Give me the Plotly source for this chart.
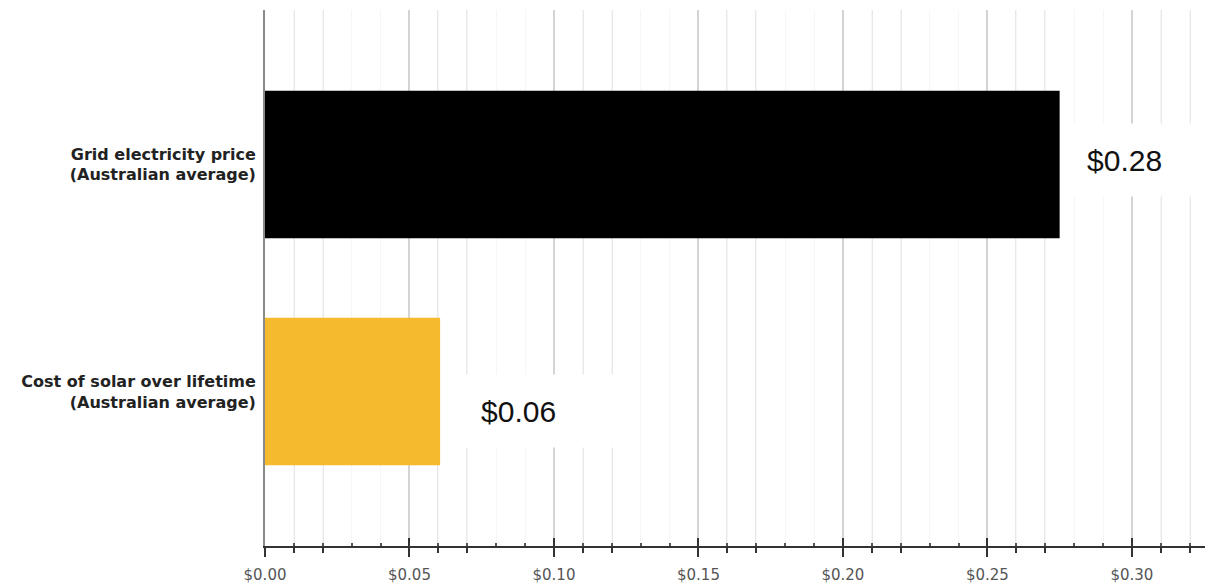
import plotly.graph_objects as go

categories = ["Cost of solar over lifetime<br>(Australian average)",
              "Grid electricity price<br>(Australian average)"]
values = [0.0606, 0.275]
value_labels = ["$0.06", "$0.28"]
bar_colors = ["#F6BA2F", "#000000"]

major_ticks = [0.00, 0.05, 0.10, 0.15, 0.20, 0.25, 0.30]
major_labels = ["$0.00", "$0.05", "$0.10", "$0.15", "$0.20", "$0.25", "$0.30"]
minor_ticks = [0.01, 0.02, 0.06, 0.07, 0.11, 0.12, 0.16, 0.17, 0.21, 0.22,
               0.26, 0.27, 0.31, 0.32]
faint_grid = [0.03, 0.04, 0.08, 0.09, 0.13, 0.14, 0.18, 0.19, 0.23, 0.24, 0.28, 0.29]

XMAX = 0.3253

fig = go.Figure()
fig.add_trace(go.Bar(
    y=categories, x=values, orientation="h",
    marker=dict(color=bar_colors, line=dict(width=0)),
    width=0.65, showlegend=False, hoverinfo="skip",
))
# helper trace on the overlay axis (for inner tick marks)
fig.add_trace(go.Scatter(x=[None], y=[categories[0]], xaxis="x2",
                         mode="markers", showlegend=False, hoverinfo="skip"))

# value boxes
box_left = [0.0672, 0.2770]
box_width = [167, 136]
yshift = [-19, 4]
for c, lab, bx, bw, ys in zip(categories, value_labels, box_left, box_width, yshift):
    fig.add_annotation(
        x=bx, y=c, xref="x", yref="y", xanchor="left", yanchor="middle",
        text="\u2002\u2009" + lab, showarrow=False, align="left",
        width=bw, height=72, bgcolor="#ffffff", borderpad=0, yshift=ys,
        font=dict(family="Liberation Sans, Arial, sans-serif", size=30, color="#111111"),
    )

# the page body adds an 8px offset; the figure is sized to fill the rest
fig.update_layout(
    width=1212, height=577,
    margin=dict(l=257, r=15, t=2, b=39, autoexpand=False),
    plot_bgcolor="#ffffff", paper_bgcolor="#ffffff",
    bargap=0.35,
    xaxis=dict(
        range=[0, XMAX], tickmode="array", tickvals=major_ticks, ticktext=major_labels,
        ticks="outside", ticklen=9, tickwidth=2, tickcolor="#333333",
        showline=True, linecolor="#333333", linewidth=2,
        showgrid=True, gridcolor="#d4d4d4", gridwidth=1.5,
        tickfont=dict(family="DejaVu Sans, sans-serif", size=15, color="#555555"),
        ticklabelstandoff=5, zeroline=False, fixedrange=True, automargin=False,
        minor=dict(tickmode="array", tickvals=minor_ticks, ticks="outside",
                   ticklen=5, tickwidth=1.5, tickcolor="#333333",
                   showgrid=True, gridcolor="#e8e8e8", gridwidth=1.5),
    ),
    xaxis2=dict(
        overlaying="x", anchor="y", side="bottom", range=[0, XMAX],
        tickmode="array", tickvals=major_ticks, showticklabels=False,
        ticks="inside", ticklen=8, tickwidth=2, tickcolor="#333333",
        showgrid=False, zeroline=False, showline=False, fixedrange=True,
        automargin=False,
        minor=dict(tickmode="array", tickvals=minor_ticks + faint_grid, ticks="inside",
                   ticklen=3, tickwidth=1.5, tickcolor="#555555",
                   showgrid=True, gridcolor="#f6f6f6", gridwidth=1),
    ),
    yaxis=dict(
        type="category", categoryorder="array", categoryarray=categories,
        range=[-0.68, 1.68], showgrid=False, zeroline=False,
        showline=True, linecolor="#8a8a8a", linewidth=2,
        ticks="", ticklabelstandoff=4, automargin=False,
        tickfont=dict(family="DejaVu Sans, sans-serif", size=16, color="#222222"),
        fixedrange=True,
    ),
)
fig.update_yaxes(tickmode="array", tickvals=categories,
                 ticktext=["<b>" + c + "</b>" for c in categories])

fig.write_html("out.html")
